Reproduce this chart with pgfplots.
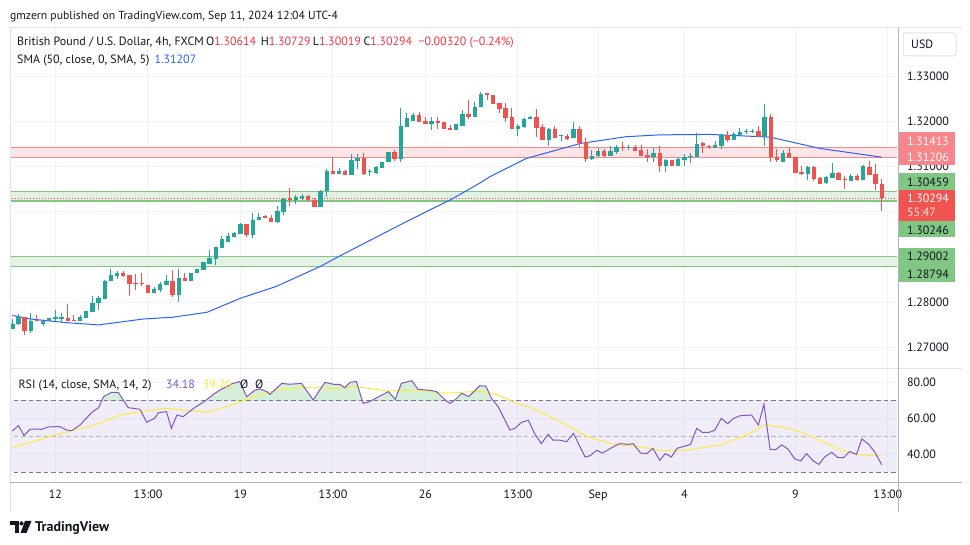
\documentclass[border=0pt]{standalone}
\usepackage{pgfplots}
\pgfplotsset{compat=1.18}
\usepackage{pgfplotstable}
\usepackage{fontspec}
\setmainfont{PT Sans}
\definecolor{tvtext}{HTML}{131722}
\definecolor{tvgrid}{HTML}{F0F3FA}
\definecolor{tvborder}{HTML}{E0E3EB}
\definecolor{tvaxis}{HTML}{B2B5BE}
\definecolor{cgreen}{HTML}{26A69A}
\definecolor{cred}{HTML}{EF5350}
\definecolor{smablue}{HTML}{2962FF}
\definecolor{zoneredline}{HTML}{F28B8E}
\definecolor{zoneredfill}{HTML}{FDE4E6}
\definecolor{zonegreenline}{HTML}{81C784}
\definecolor{zonegreenfill}{HTML}{E3F2E4}
\definecolor{rsipurple}{HTML}{7E57C2}
\definecolor{rsiyellow}{HTML}{FFE93B}
\definecolor{rsigreen}{HTML}{D6EFD8}
\definecolor{dashgray}{HTML}{787B86}
\definecolor{pinkbox}{HTML}{F7868A}
\definecolor{greenbox}{HTML}{81C784}
\definecolor{redbox}{HTML}{F05350}
\definecolor{pricered}{HTML}{F23645}
\newcommand\lbl{\fontsize{12}{14}\selectfont}
\newcommand\hdr{\fontsize{12}{14}\selectfont}

\pgfplotstableread{
i o h l c
0 1.2742 1.2762 1.2742 1.2752
1 1.2751 1.2774 1.2750 1.2768
3 1.2737 1.2776 1.2733 1.2758
5 1.2753 1.2759 1.2748 1.2759
6 1.2758 1.2765 1.2758 1.2765
7 1.2764 1.2783 1.2758 1.2765
8 1.2764 1.2776 1.2755 1.2765
11 1.2758 1.2771 1.2758 1.2767
12 1.2766 1.2781 1.2766 1.2781
13 1.2779 1.2814 1.2779 1.2798
14 1.2798 1.2814 1.2783 1.2810
15 1.2808 1.2849 1.2808 1.2848
16 1.2846 1.2874 1.2846 1.2860
17 1.2859 1.2869 1.2852 1.2865
23 1.2821 1.2834 1.2821 1.2829
24 1.2828 1.2845 1.2822 1.2841
25 1.2839 1.2860 1.2839 1.2846
27 1.2816 1.2874 1.2801 1.2854
29 1.2848 1.2865 1.2848 1.2865
30 1.2864 1.2874 1.2864 1.2874
31 1.2871 1.2888 1.2871 1.2888
32 1.2885 1.2916 1.2885 1.2898
33 1.2896 1.2922 1.2883 1.2922
34 1.2921 1.2947 1.2921 1.2940
35 1.2934 1.2953 1.2933 1.2947
36 1.2945 1.2956 1.2945 1.2953
37 1.2952 1.2975 1.2952 1.2973
39 1.2949 1.2997 1.2941 1.2982
40 1.2981 1.2997 1.2981 1.2989
43 1.2977 1.3013 1.2975 1.3002
44 1.3000 1.3030 1.2993 1.3028
46 1.3025 1.3037 1.3018 1.3033
47 1.3031 1.3040 1.3027 1.3034
50 1.3011 1.3048 1.3011 1.3045
51 1.3045 1.3094 1.3033 1.3091
53 1.3084 1.3096 1.3084 1.3090
55 1.3082 1.3128 1.3082 1.3115
56 1.3113 1.3128 1.3095 1.3119
58 1.3087 1.3094 1.3078 1.3089
59 1.3086 1.3101 1.3084 1.3098
60 1.3097 1.3110 1.3097 1.3110
61 1.3109 1.3132 1.3109 1.3132
63 1.3117 1.3229 1.3109 1.3190
64 1.3187 1.3218 1.3187 1.3207
65 1.3201 1.3218 1.3201 1.3214
68 1.3195 1.3209 1.3180 1.3201
72 1.3180 1.3193 1.3180 1.3193
73 1.3190 1.3224 1.3190 1.3216
75 1.3210 1.3242 1.3210 1.3231
76 1.3231 1.3265 1.3231 1.3260
82 1.3184 1.3193 1.3168 1.3190
83 1.3187 1.3208 1.3186 1.3206
84 1.3204 1.3212 1.3204 1.3210
87 1.3159 1.3185 1.3146 1.3182
89 1.3168 1.3169 1.3157 1.3169
91 1.3162 1.3199 1.3162 1.3183
94 1.3117 1.3137 1.3115 1.3124
95 1.3124 1.3140 1.3120 1.3135
97 1.3124 1.3146 1.3124 1.3135
98 1.3132 1.3148 1.3128 1.3144
100 1.3141 1.3148 1.3137 1.3143
104 1.3120 1.3140 1.3110 1.3130
106 1.3102 1.3117 1.3089 1.3115
108 1.3102 1.3120 1.3102 1.3117
109 1.3115 1.3128 1.3102 1.3122
110 1.3120 1.3129 1.3107 1.3124
111 1.3121 1.3174 1.3121 1.3150
114 1.3141 1.3157 1.3141 1.3148
115 1.3146 1.3172 1.3138 1.3169
117 1.3159 1.3176 1.3159 1.3172
118 1.3170 1.3185 1.3170 1.3176
119 1.3177 1.3182 1.3171 1.3179
120 1.3177 1.3182 1.3175 1.3179
122 1.3166 1.3238 1.3146 1.3209
125 1.3111 1.3137 1.3111 1.3129
129 1.3083 1.3101 1.3070 1.3098
132 1.3063 1.3079 1.3061 1.3077
133 1.3074 1.3107 1.3074 1.3085
136 1.3067 1.3083 1.3067 1.3079
138 1.3071 1.3103 1.3071 1.3101
}\greencandles

\pgfplotstableread{
i o h l c
2 1.2767 1.2767 1.2728 1.2737
4 1.2759 1.2771 1.2758 1.2758
9 1.2765 1.2796 1.2758 1.2758
10 1.2759 1.2771 1.2758 1.2758
18 1.2865 1.2869 1.2857 1.2859
19 1.2860 1.2860 1.2815 1.2841
20 1.2843 1.2863 1.2827 1.2841
21 1.2841 1.2865 1.2835 1.2840
22 1.2838 1.2838 1.2821 1.2821
26 1.2846 1.2871 1.2812 1.2816
28 1.2854 1.2865 1.2848 1.2848
38 1.2973 1.2973 1.2945 1.2949
41 1.2991 1.2994 1.2986 1.2987
42 1.2987 1.2994 1.2978 1.2978
45 1.3028 1.3053 1.3013 1.3027
48 1.3035 1.3037 1.3023 1.3025
49 1.3026 1.3031 1.3011 1.3011
52 1.3090 1.3120 1.3084 1.3084
54 1.3090 1.3092 1.3082 1.3082
57 1.3119 1.3130 1.3082 1.3084
62 1.3132 1.3137 1.3112 1.3117
66 1.3214 1.3221 1.3199 1.3199
67 1.3201 1.3209 1.3194 1.3194
69 1.3201 1.3209 1.3182 1.3197
70 1.3199 1.3199 1.3182 1.3184
71 1.3185 1.3192 1.3180 1.3180
74 1.3216 1.3247 1.3204 1.3210
77 1.3260 1.3260 1.3246 1.3259
78 1.3259 1.3259 1.3239 1.3239
79 1.3241 1.3241 1.3218 1.3228
80 1.3229 1.3240 1.3199 1.3207
81 1.3210 1.3229 1.3184 1.3184
85 1.3210 1.3227 1.3166 1.3186
86 1.3187 1.3195 1.3159 1.3159
88 1.3183 1.3190 1.3164 1.3164
90 1.3168 1.3171 1.3159 1.3161
92 1.3183 1.3190 1.3144 1.3153
93 1.3154 1.3163 1.3111 1.3117
96 1.3135 1.3138 1.3120 1.3124
99 1.3143 1.3154 1.3134 1.3141
101 1.3143 1.3148 1.3135 1.3135
102 1.3137 1.3148 1.3124 1.3124
103 1.3126 1.3139 1.3109 1.3120
105 1.3130 1.3146 1.3089 1.3102
107 1.3115 1.3115 1.3102 1.3102
112 1.3151 1.3155 1.3129 1.3145
113 1.3145 1.3148 1.3139 1.3143
116 1.3169 1.3179 1.3155 1.3159
121 1.3179 1.3189 1.3166 1.3166
123 1.3210 1.3216 1.3111 1.3120
124 1.3120 1.3139 1.3111 1.3114
126 1.3129 1.3142 1.3118 1.3118
127 1.3120 1.3120 1.3085 1.3086
128 1.3087 1.3101 1.3081 1.3083
130 1.3098 1.3101 1.3068 1.3072
131 1.3074 1.3076 1.3061 1.3061
134 1.3085 1.3089 1.3070 1.3070
135 1.3072 1.3078 1.3050 1.3070
137 1.3079 1.3083 1.3068 1.3071
139 1.3100 1.3112 1.3081 1.3081
140 1.3083 1.3105 1.3048 1.3061
141 1.30614 1.30729 1.30019 1.30294
}\redcandles

\pgfplotstableread{
i v
0 1.2771
3 1.2763
8.8 1.2755
14 1.2750
21.2 1.2763
26 1.2767
31.6 1.2778
37 1.2809
42.8 1.2835
49.9 1.2879
53.2 1.2903
62.3 1.2967
67.7 1.3004
71 1.3026
75.9 1.3064
77.5 1.3078
83.4 1.3118
92.1 1.3151
99.6 1.3166
105 1.3170
113.1 1.3171
114.8 1.3170
122.9 1.3165
131 1.3140
141 1.31207
}\smadata

\pgfplotstableread{
i r
0 52.9
1 55.9
1.9 50.4
2.9 54.0
4.8 53.9
5.8 55.2
7.7 55.4
8.8 53.5
9.6 53.1
11 56.3
12.9 63.3
14 65.9
14.8 72.0
16.1 74.4
17.2 74.4
18.8 65.9
20.7 65.0
21.8 57.8
23.1 60.0
23.7 63.1
25 63.7
25.8 54.4
26.7 61.8
27.7 60.9
29.4 65.5
31.5 70.2
32.6 73.3
33.7 75.7
35.8 79.4
36.9 80.4
38 72.0
39.4 75.7
40.2 76.3
41.3 74.8
41.8 73.3
43.7 79.4
45 78.9
46.9 79.4
48.8 70.2
50.7 80.0
52.1 78.9
53.1 78.9
53.9 77.0
54.8 80.0
55.8 80.4
56.9 68.3
57.7 68.9
61 74.8
62.1 70.5
63.1 79.4
64.8 80.9
65.8 76.1
68 75.4
68.8 74.8
70.4 69.6
71 68.3
71.8 70.2
72.9 73.9
74 72.0
75.8 78.1
76.8 77.9
77.7 71.1
78.8 66.5
80.7 53.5
81.5 54.4
82.6 57.8
83.7 58.9
84.7 51.6
85.8 45.9
86.9 51.1
87.7 47.8
88.8 47.8
89.9 47.0
91 51.6
92.9 38.5
93.7 39.2
94.8 42.2
95.7 40.7
97.5 44.2
98.5 45.9
99.9 45.5
100.7 45.9
101.9 40.7
102.9 40.4
103.9 43.3
105 36.6
105.9 40.4
106.9 38.5
107.8 43.3
110 45.5
111 54.4
111.9 52.2
113 52.2
113.9 53.3
115 60.0
116 57.0
117 60.0
118.1 61.5
119.9 61.8
121 56.3
121.9 67.8
122.9 42.7
123.8 42.6
124.8 45.2
125.8 42.9
126.9 37.4
127.9 36.3
128.8 40.4
129.9 36.3
130.8 34.4
131.8 38.7
132.9 41.1
133.9 38.1
134.8 38.1
135.8 41.5
136.9 40.0
137.8 48.5
138.9 45.5
139.9 41.1
141 34.18
}\rsidata

\pgfplotstableread{
i s
0 43.7
3.4 47.0
6.9 50.7
9.6 53.1
13.1 55.9
17.5 61.8
21.8 64.2
25 65.5
27.7 64.6
31.5 63.3
34.8 66.5
39.1 72.0
42.9 75.7
46.6 77.2
52.1 76.6
55.8 77.6
60.7 75.2
65.6 75.7
69.9 73.9
75.8 75.0
78.8 73.0
81.8 68.3
84.5 65.5
89.9 56.3
93.2 49.8
97.5 45.5
101.8 44.2
105.6 42.0
109.4 42.4
114.8 45.2
119.1 50.7
122 56.3
124.5 55.4
127.7 52.6
132 46.1
135.3 41.5
137.5 39.6
141 39.2
}\rsisma

\pgfplotsset{
  tvbase/.style={
    scale only axis, width=887pt,
    xmin=-0.373, xmax=143.48,
    axis line style={draw=none}, major tick length=0pt,
    xtick={7,22,37,52,67,82,95,109,127,142},
    grid=major, major grid style={draw=tvgrid, line width=1pt},
    yticklabel pos=right,
    yticklabel style={font=\lbl, text=tvtext, anchor=west, inner sep=0pt, xshift=10pt},
    scaled y ticks=false,
  },
  wick/.style={draw=none, mark=none, error bars/.cd, y dir=plus, y explicit, error mark=none,
    error bar style={draw=#1, line width=1pt}},
  body/.style={draw=none, mark=none, error bars/.cd, y dir=plus, y explicit, error mark=none,
    error bar style={draw=#1, line width=4.4pt}},
}

\begin{document}
\begin{tikzpicture}
\useasboundingbox (0pt,0pt) rectangle (970pt,545pt);
\fill[white] (0pt,0pt) rectangle (970pt,545pt);

% ---------------- price panel ----------------
\begin{axis}[tvbase,
  at={(10pt,176pt)}, anchor=south west, height=341pt,
  ymin=1.26526, ymax=1.34062,
  xticklabels={},
  ytick={1.27,1.28,1.29,1.30,1.31,1.32,1.33},
  yticklabels={1.27000,1.28000,{},{},1.31000,1.32000,1.33000},
]
\fill[zoneredfill] (axis cs:-1,1.31206) rectangle (axis cs:145,1.31413);
\draw[zoneredline, line width=1pt] (axis cs:-1,1.31206) -- (axis cs:145,1.31206);
\draw[zoneredline, line width=1pt] (axis cs:-1,1.31413) -- (axis cs:145,1.31413);
\fill[zonegreenfill] (axis cs:-1,1.30246) rectangle (axis cs:145,1.30459);
\draw[zonegreenline, line width=1pt] (axis cs:-1,1.30459) -- (axis cs:145,1.30459);
\draw[zonegreenline, line width=2pt] (axis cs:-1,1.30246) -- (axis cs:145,1.30246);
\fill[zonegreenfill] (axis cs:-1,1.28794) rectangle (axis cs:145,1.29002);
\draw[zonegreenline, line width=1pt] (axis cs:-1,1.29002) -- (axis cs:145,1.29002);
\draw[zonegreenline, line width=1pt] (axis cs:-1,1.28794) -- (axis cs:145,1.28794);
\draw[pricered, line width=1pt, dash pattern=on 1.2pt off 1.8pt] (axis cs:-1,1.30294) -- (axis cs:145,1.30294);

\addplot[smablue, line width=1pt] table[x=i, y=v] {\smadata};

\addplot[wick=cgreen] table[x=i, y=l, y error plus expr={\thisrow{h}-\thisrow{l}}] {\greencandles};
\addplot[wick=cred] table[x=i, y=l, y error plus expr={\thisrow{h}-\thisrow{l}}] {\redcandles};
\addplot[body=cgreen] table[x=i, y=o, y error plus expr={max(\thisrow{c}-\thisrow{o},0.00025)}] {\greencandles};
\addplot[body=cred] table[x=i, y=c, y error plus expr={max(\thisrow{o}-\thisrow{c},0.00025)}] {\redcandles};
\end{axis}

% ---------------- RSI panel ----------------
\begin{axis}[tvbase,
  at={(10pt,62.5pt)}, anchor=south west, height=113.5pt,
  ymin=24.33, ymax=87.39,
  ytick={40,60,80},
  yticklabels={40.00,60.00,80.00},
  xticklabels={12,13:00,19,13:00,26,13:00,Sep,4,9,13:00},
  xticklabel style={font=\lbl, text=tvtext, anchor=north, inner sep=0pt, yshift=-7pt},
]
\fill[rsipurple, fill opacity=0.1] (axis cs:-1,30) rectangle (axis cs:145,70);
\begin{scope}
\clip (axis cs:-1,70) rectangle (axis cs:145,100);
\addplot[fill=rsigreen, draw=none] table[x=i, y=r] {\rsidata} \closedcycle;
\end{scope}
\draw[dashgray, line width=0.9pt, dash pattern=on 4.5pt off 3pt] (axis cs:-1,70) -- (axis cs:145,70);
\draw[dashgray, line width=0.9pt, dash pattern=on 4.5pt off 3pt] (axis cs:-1,30) -- (axis cs:145,30);
\draw[dashgray!55, line width=0.9pt, dash pattern=on 4.5pt off 3pt] (axis cs:-1,50) -- (axis cs:145,50);
\addplot[rsiyellow, line width=1pt] table[x=i, y=s] {\rsisma};
\addplot[rsipurple, line width=1pt] table[x=i, y=r] {\rsidata};
\end{axis}

\begin{scope}[x=1pt,y=1pt]
% ---------------- frame lines ----------------
\draw[tvborder, line width=1pt] (10,517) -- (962,517);
\draw[tvborder, line width=1pt] (10,176) -- (962,176);
\draw[tvborder, line width=1pt] (10,517) -- (10,33);
\draw[tvaxis, line width=1pt] (10,62.5) -- (962,62.5);
\draw[tvaxis, line width=1pt] (898,517) -- (898,33);

% ---------------- right price labels ----------------
\fill[pinkbox] (899,412.7) rectangle (955,379.7);
\node[anchor=base west, font=\lbl, text=white, inner sep=0pt] at (907,399.7) {1.31413};
\node[anchor=base west, font=\lbl, text=white, inner sep=0pt] at (907,383) {1.31206};
\fill[greenbox] (899,371.7) rectangle (955,355);
\node[anchor=base west, font=\lbl, text=tvtext, inner sep=0pt] at (907,358.5) {1.30459};
\fill[redbox] (899,355) rectangle (955,324.3);
\node[anchor=base west, font=\lbl, text=white, inner sep=0pt] at (907,342.5) {1.30294};
\node[anchor=base west, font=\lbl, text=white!85!redbox, inner sep=0pt] at (907,328) {55:47};
\fill[greenbox] (899,324.3) rectangle (955,307.7);
\node[anchor=base west, font=\lbl, text=tvtext, inner sep=0pt] at (907,310.7) {1.30246};
\fill[greenbox] (899,296.7) rectangle (955,263.3);
\node[anchor=base west, font=\lbl, text=tvtext, inner sep=0pt] at (907,284) {1.29002};
\node[anchor=base west, font=\lbl, text=tvtext, inner sep=0pt] at (907,266.7) {1.28794};

% USD box
\draw[tvborder, line width=1pt, rounded corners=3pt, fill=white] (903,512) rectangle (956,489);
\node[anchor=base west, font=\lbl, text=tvtext, inner sep=0pt] at (911,496) {USD};

% ---------------- header texts ----------------
\node[anchor=base west, font=\fontsize{11.7}{14}\selectfont, text=tvtext, inner sep=0pt] at (10,525) {gmzern published on TradingView.com, Sep 11, 2024 12:04 UTC-4};
\node[anchor=base west, font=\hdr, text=tvtext, inner sep=0pt] at (17,499) {British Pound / U.S. Dollar, 4h, FXCM};
\node[anchor=base west, font=\hdr, text=tvtext, inner sep=0pt] at (206,499) {O\textcolor{pricered}{1.30614}};
\node[anchor=base west, font=\hdr, text=tvtext, inner sep=0pt] at (260.7,499) {H\textcolor{pricered}{1.30729}};
\node[anchor=base west, font=\hdr, text=tvtext, inner sep=0pt] at (312.7,499) {L\textcolor{pricered}{1.30019}};
\node[anchor=base west, font=\hdr, text=tvtext, inner sep=0pt] at (363.3,499) {C\textcolor{pricered}{1.30294}};
\node[anchor=base west, font=\hdr, text=pricered, inner sep=0pt] at (418.3,499) {−0.00320 (−0.24\%)};
\node[anchor=base west, font=\hdr, text=tvtext, inner sep=0pt] at (17,481.5) {SMA (50, close, 0, SMA, 5)};
\node[anchor=base west, font=\hdr, text=smablue, inner sep=0pt] at (154.3,481.5) {1.31207};

\node[anchor=base west, font=\hdr, text=tvtext, inner sep=0pt] at (18.3,156) {RSI (14, close, SMA, 14, 2)};
\node[anchor=base west, font=\hdr, text=rsipurple, inner sep=0pt] at (166,156) {34.18};
\node[anchor=base west, font=\hdr, text=rsiyellow, inner sep=0pt] at (202.7,156) {39.20};
\node[anchor=base west, font=\hdr, text=tvtext, inner sep=0pt] at (240,156) {Ø};
\node[anchor=base west, font=\hdr, text=tvtext, inner sep=0pt] at (255,156) {Ø};

% ---------------- TradingView logo ----------------
\fill[tvtext] (10,24) rectangle (18.5,20.2);
\fill[tvtext] (14.5,24) rectangle (18.5,12);
\fill[tvtext] (21.5,21.6) circle (2.1);
\fill[tvtext] (25,24) -- (31.5,24) -- (26.5,12) -- (20.5,12) -- cycle;
\node[anchor=base west, font=\fontsize{14}{16}\selectfont\bfseries, text=tvtext, inner sep=0pt] at (35,13) {TradingView};
\end{scope}
\end{tikzpicture}
\end{document}
